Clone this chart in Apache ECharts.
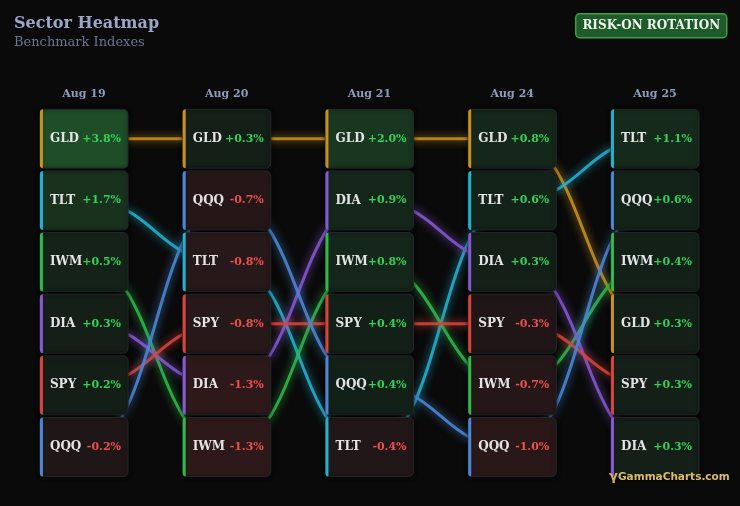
<!DOCTYPE html>
<html><head><meta charset="utf-8">
<script src="https://cdn.jsdelivr.net/npm/echarts@6/dist/echarts.min.js"></script>
<style>html,body{margin:0;padding:0;background:#0a0a0a;}#c{width:740px;height:506px;}</style>
</head><body><div id="c"></div>
<script>
// ---- data ----
const days = ['Aug 19', 'Aug 20', 'Aug 21', 'Aug 24', 'Aug 25'];
const tickers = ['GLD', 'TLT', 'IWM', 'DIA', 'SPY', 'QQQ'];
const tickerColors = ['#c98f1f', '#22b2d0', '#2fb84c', '#8658d4', '#d8443b', '#4b87d6'];
// ranking (top -> bottom) and daily change (%) per day
const orderAug19 = ['GLD', 'TLT', 'IWM', 'DIA', 'SPY', 'QQQ'];
const changeAug19 = [3.8, 1.7, 0.5, 0.3, 0.2, -0.2];
const orderAug20 = ['GLD', 'QQQ', 'TLT', 'SPY', 'DIA', 'IWM'];
const changeAug20 = [0.3, -0.7, -0.8, -0.8, -1.3, -1.3];
const orderAug21 = ['GLD', 'DIA', 'IWM', 'SPY', 'QQQ', 'TLT'];
const changeAug21 = [2.0, 0.9, 0.8, 0.4, 0.4, -0.4];
const orderAug24 = ['GLD', 'TLT', 'DIA', 'SPY', 'IWM', 'QQQ'];
const changeAug24 = [0.8, 0.6, 0.3, -0.3, -0.7, -1.0];
const orderAug25 = ['TLT', 'QQQ', 'IWM', 'GLD', 'SPY', 'DIA'];
const changeAug25 = [1.1, 0.6, 0.4, 0.3, 0.3, 0.3];
const badgeText = 'RISK-ON ROTATION';

const orders = [orderAug19, orderAug20, orderAug21, orderAug24, orderAug25];
const changes = [changeAug19, changeAug20, changeAug21, changeAug24, changeAug25];

// cells: [day, rank, tickerIdx, change]
const cellData = [];
orders.forEach((ord, d) => ord.forEach((t, r) => cellData.push([d, r + 1, tickers.indexOf(t), changes[d][r]])));
// line segments: [day, rankFrom, rankTo, tickerIdx]
const segData = [];
tickers.forEach((t, ti) => {
  for (let d = 0; d < orders.length - 1; d++) {
    segData.push([d, orders[d].indexOf(t) + 1, orders[d + 1].indexOf(t) + 1, ti]);
  }
});

function mix(a, b, f) {
  const pa = [1, 3, 5].map(i => parseInt(a.substr(i, 2), 16));
  const pb = [1, 3, 5].map(i => parseInt(b.substr(i, 2), 16));
  return 'rgb(' + pa.map((v, i) => Math.round(v + (pb[i] - v) * f)).join(',') + ')';
}
function cellFill(v) {
  const f = Math.min(Math.abs(v) / 4, 1);
  return v >= 0 ? mix('#121b16', '#1f5029', f) : mix('#1c1517', '#52221f', f);
}

const chart = echarts.init(document.getElementById('c'));
const serif = 'DejaVu Serif';
chart.setOption({
  backgroundColor: '#0a0a0a',
  animation: false,
  title: {
    text: 'Sector Heatmap', subtext: 'Benchmark Indexes', left: 14, top: 16, padding: 0, itemGap: 4,
    textStyle: { color: '#9aa7c9', fontSize: 16, fontWeight: 'bold', fontFamily: serif },
    subtextStyle: { color: '#6b7590', fontSize: 13, fontFamily: serif }
  },
  grid: { left: 12.6, right: 13.6, top: 108, bottom: 28.2 },
  xAxis: {
    type: 'category', data: days, position: 'top',
    axisLine: { show: false }, axisTick: { show: false }, splitLine: { show: false },
    axisLabel: { color: '#8e9bbf', fontSize: 11, fontWeight: 'bold', fontFamily: serif, margin: 8 }
  },
  yAxis: { type: 'value', inverse: true, min: 0.5, max: 6.5, show: false },
  graphic: [
    {
      type: 'group', left: 575, top: 13, z: 100, children: [
        { type: 'rect', shape: { x: 0, y: 0, width: 151, height: 24, r: 4 }, style: { fill: '#1f5a29', stroke: '#3d9f4b', lineWidth: 1.5 } },
        { type: 'text', style: { x: 75.5, y: 12, text: badgeText, align: 'center', verticalAlign: 'middle', fill: '#eef3ee', font: 'bold 12px "DejaVu Serif"' } }
      ]
    },
    { type: 'text', left: 609, top: 470, z: 100, style: { text: 'γ', fill: '#d8b45a', font: 'bold 13px "DejaVu Sans"' } },
    { type: 'text', left: 618, top: 472, z: 100, style: { text: 'GammaCharts.com', fill: '#dcbc66', font: 'bold 10.5px "DejaVu Sans"' } }
  ],
  series: [
    {
      type: 'custom', z: 1, clip: false, data: segData, encode: { x: 0, y: 1 },
      renderItem: (params, api) => {
        const d = api.value(0);
        const p0 = api.coord([d, api.value(1)]);
        const p1 = api.coord([d + 1, api.value(2)]);
        const col = tickerColors[api.value(3)];
        const mx = (p0[0] + p1[0]) / 2;
        return {
          type: 'bezierCurve',
          shape: { x1: p0[0], y1: p0[1], x2: p1[0], y2: p1[1], cpx1: mx, cpy1: p0[1], cpx2: mx, cpy2: p1[1] },
          style: { stroke: col, lineWidth: 3, fill: null, shadowBlur: 8, shadowColor: col, opacity: 0.88 }
        };
      }
    },
    {
      type: 'custom', z: 3, clip: false, data: cellData, encode: { x: 0, y: 1 },
      renderItem: (params, api) => {
        const c = api.coord([api.value(0), api.value(1)]);
        const s = api.size([1, 1]);
        const w = s[0] * 0.617, h = s[1] * 0.957;
        const x = c[0] - w / 2, y = c[1] - h / 2;
        const ti = api.value(2), v = api.value(3);
        const pct = (v >= 0 ? '+' : '') + v.toFixed(1) + '%';
        return {
          type: 'group', children: [
            { type: 'rect', shape: { x: x, y: y, width: w, height: h, r: 5 }, style: { fill: cellFill(v), stroke: '#25292a', lineWidth: 1, shadowBlur: 4, shadowColor: 'rgba(0,0,0,0.6)' } },
            { type: 'rect', shape: { x: x, y: y, width: 3, height: h, r: [3, 0, 0, 3] }, style: { fill: tickerColors[ti] } },
            { type: 'text', style: { x: x + 10, y: c[1], text: tickers[ti], verticalAlign: 'middle', fill: '#e4e4e4', font: 'bold 12px "DejaVu Serif"' } },
            { type: 'text', style: { x: x + w - 7, y: c[1], text: pct, align: 'right', verticalAlign: 'middle', fill: v >= 0 ? '#34d058' : '#ee4f4f', font: 'bold 11px "DejaVu Serif"' } }
          ]
        };
      }
    }
  ]
});
</script></body></html>
